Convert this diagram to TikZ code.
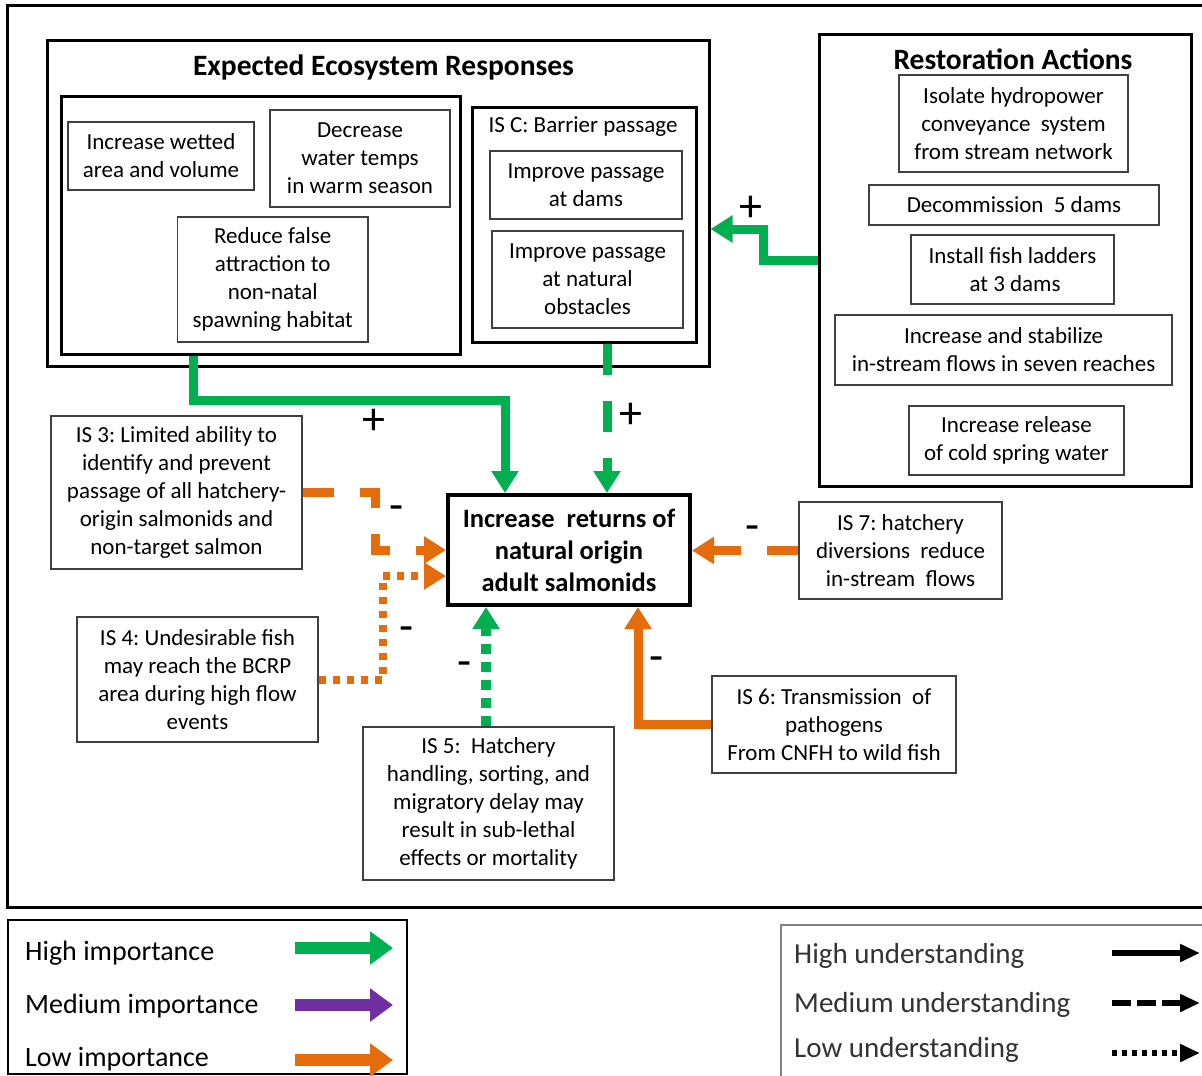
\documentclass[tikz,border=0pt]{standalone}
\usepackage{fontspec}
\setmainfont{Carlito}
\usetikzlibrary{arrows.meta}
\frenchspacing

\definecolor{hiG}{RGB}{0,176,80}
\definecolor{medP}{RGB}{112,48,160}
\definecolor{loO}{RGB}{228,108,10}

\newcommand\bodyfont{\fontsize{23}{28}\selectfont}
\newcommand\titlefont{\fontsize{29.5}{34}\selectfont\bfseries}
\newcommand\goalfont{\fontsize{26.5}{32}\selectfont\bfseries}
\newcommand\signfont{\fontsize{46}{46}\selectfont}

% box from corner (x1,y1) to corner (x2,y2), in pixel-like units
\newcommand\bx[7]{%
  \node[#2, minimum width={(#5-#3)*1pt}, minimum height={(#6-#4)*1pt}]
    (#1) at ({(#3+#5)/2},{(#4+#6)/2}) {#7};}

\begin{document}
\begin{tikzpicture}[x=1pt, y=-1pt,
  thinbox/.style={draw=black!75, line width=1.3pt, inner sep=0pt,
    align=center, font=\bodyfont},
  thickbox/.style={draw=black, line width=3pt, inner sep=0pt},
  goalbox/.style={draw=black, line width=4pt, inner sep=0pt,
    align=center, font=\goalfont},
  title/.style={inner sep=0pt, font=\titlefont},
  sign/.style={inner sep=0pt, font=\signfont},
  link/.style={line width=9pt, -{Triangle[width=26pt,length=22pt]}},
  hilink/.style={link, hiG},
  lolink/.style={link, loO},
  meddash/.style={dash pattern=on 31pt off 26pt},
  lowdot/.style={dash pattern=on 7pt off 7pt, line width=8pt},
  lowdotg/.style={dash pattern=on 10pt off 8pt, line width=10pt},
  legtext/.style={inner sep=0pt, anchor=base west, font=\fontsize{28}{32}\selectfont},
  legtextb/.style={inner sep=0pt, anchor=base west, text=black!80,
    font=\fontsize{29}{32}\selectfont},
  legbig/.style={line width=12pt, -{Triangle[width=32pt,length=23pt]}},
  legsmall/.style={line width=6pt, black, -{Triangle[width=17pt,length=20pt]}}
]
\useasboundingbox (0,0) rectangle (1202,1076);

% outer frame (runs past the right edge)
\draw[line width=3pt] (1230,5) -- (7,5) -- (7,907) -- (1230,907);

% ---------- Expected ecosystem responses ----------
\bx{eco}{thickbox}{47}{40}{709}{366}{}
\node[title] (ecot) at (383.5,67) {Expected Ecosystem Responses};
\bx{leftin}{thickbox}{61}{96}{460}{354}{}
\bx{wet}{thinbox}{68}{122}{254}{190}{Increase wetted\\area and volume}
\bx{temp}{thinbox}{270}{110}{450}{207}{Decrease\\water temps\\in warm season}
\bx{false}{thinbox}{177.5}{217}{368}{342}{Reduce false\\attraction to\\non-natal\\spawning habitat}
\bx{isc}{thickbox}{472}{107}{696}{342}{}
\node[inner sep=0pt, font=\bodyfont] (isct) at (583,127) {IS C: Barrier passage};
\bx{dams}{thinbox}{490}{151}{682}{219}{Improve passage\\at dams}
\bx{natobs}{thinbox}{492}{231}{683}{328}{Improve passage\\at natural\\obstacles}

% ---------- Restoration actions ----------
\bx{resto}{thickbox}{819}{34}{1191}{486}{}
\node[title] (restot) at (1013,59) {Restoration Actions};
\bx{iso}{thinbox}{899}{75}{1128}{172}{Isolate hydropower\\conveyance~~system\\from stream network}
\bx{decom}{thinbox}{869}{185}{1159}{225}{Decommission~~5 dams}
\bx{ladder}{thinbox}{911}{235}{1114}{304}{Install fish ladders\\~at 3 dams}
\bx{flows}{thinbox}{835}{315}{1172}{385}{Increase and stabilize\\in-stream flows in seven reaches}
\bx{cold}{thinbox}{909}{406}{1124}{475}{Increase release\\of cold spring water}

% ---------- goal and stressors ----------
\bx{goal}{goalbox}{448}{495}{690}{605}{Increase~~returns of\\natural origin\\adult salmonids}
\bx{is3}{thinbox}{51}{416}{302}{569}{IS 3: Limited ability to\\identify and prevent\\passage of all hatchery-\\origin salmonids and\\non-target salmon}
\bx{is4}{thinbox}{77}{617}{318}{742}{IS 4: Undesirable fish\\may reach the BCRP\\area during high flow\\events}
\bx{is5}{thinbox}{363}{727}{614}{880}{IS 5:~~Hatchery\\handling, sorting, and\\migratory delay may\\result in sub-lethal\\effects or mortality}
\bx{is6}{thinbox}{712}{676}{956}{773}{IS 6: Transmission~~of\\pathogens\\From CNFH to wild fish}
\bx{is7}{thinbox}{799}{502}{1002}{599}{IS 7: hatchery\\diversions~~reduce\\in-stream~~flows}

% ---------- connectors ----------
\coordinate (k1) at (763,229);
\coordinate (k2a) at (193,0);
\coordinate (k2b) at (505,400);
\coordinate (k3) at (607,0);
\coordinate (k4) at (375,550);
\coordinate (k5) at (383,576);
\coordinate (k6) at (486,0);
\coordinate (k7) at (638,0);

\draw[hilink] (resto.west) -| (k1) -- (eco.east |- k1);
\draw[hilink] (leftin.south -| k2a) |- (k2b) -- (goal.north -| k2b);
\draw[hilink, meddash] (isc.south -| k3) -- (goal.north -| k3);
\draw[lolink, meddash] (is3.east) -| (k4) -- (goal.west |- k4);
\draw[lolink, lowdot] (is4.east) -| (k5) -- (goal.west |- k5);
\draw[hilink, lowdotg] (is5.north -| k6) -- (goal.south -| k6);
\draw[lolink] (is6.west) -| (goal.south -| k7);
\draw[lolink, meddash] (is7.west) -- (goal.east |- is7.west);

% signs of the effects
\node[sign] (p1) at (751,209) {+};
\node[sign] (p2) at (374,422) {+};
\node[sign] (p3) at (631,416) {+};
\node[sign] (m3) at (397,513) {-};
\node[sign] (m4) at (407,634) {-};
\node[sign] (m5) at (465,669) {-};
\node[sign] (m6) at (657,664) {-};
\node[sign] (m7) at (753,533) {-};

% ---------- legends ----------
\bx{leg1}{draw=black, line width=2pt}{8}{920}{407}{1074}{}
\node[legtext] (l1a) at (25,960) {High importance};
\node[legtext] (l1b) at (25,1013) {Medium importance};
\node[legtext] (l1c) at (25,1066) {Low importance};
\coordinate (g1s) at (295,948);  \coordinate (g1e) at (393,948);
\coordinate (g2s) at (295,1005); \coordinate (g2e) at (393,1005);
\coordinate (g3s) at (295,1060); \coordinate (g3e) at (393,1060);
\draw[legbig, hiG] (g1s) -- (g1e);
\draw[legbig, medP] (g2s) -- (g2e);
\draw[legbig, loO] (g3s) -- (g3e);

\draw[black!50, line width=2pt] (1230,925) -- (781,925) -- (781,1090);
\node[legtextb] (l2a) at (794,963) {High understanding};
\node[legtextb] (l2b) at (794,1012) {Medium understanding};
\node[legtextb] (l2c) at (794,1057) {Low understanding};
\coordinate (u1s) at (1112,953);  \coordinate (u1e) at (1200,953);
\coordinate (u2s) at (1112,1003); \coordinate (u2e) at (1200,1003);
\coordinate (u3s) at (1112,1053); \coordinate (u3e) at (1200,1053);
\draw[legsmall] (u1s) -- (u1e);
\draw[legsmall, dash pattern=on 19pt off 6pt] (u2s) -- (u2e);
\draw[legsmall, dash pattern=on 5pt off 5pt] (u3s) -- (u3e);
\end{tikzpicture}
\end{document}
